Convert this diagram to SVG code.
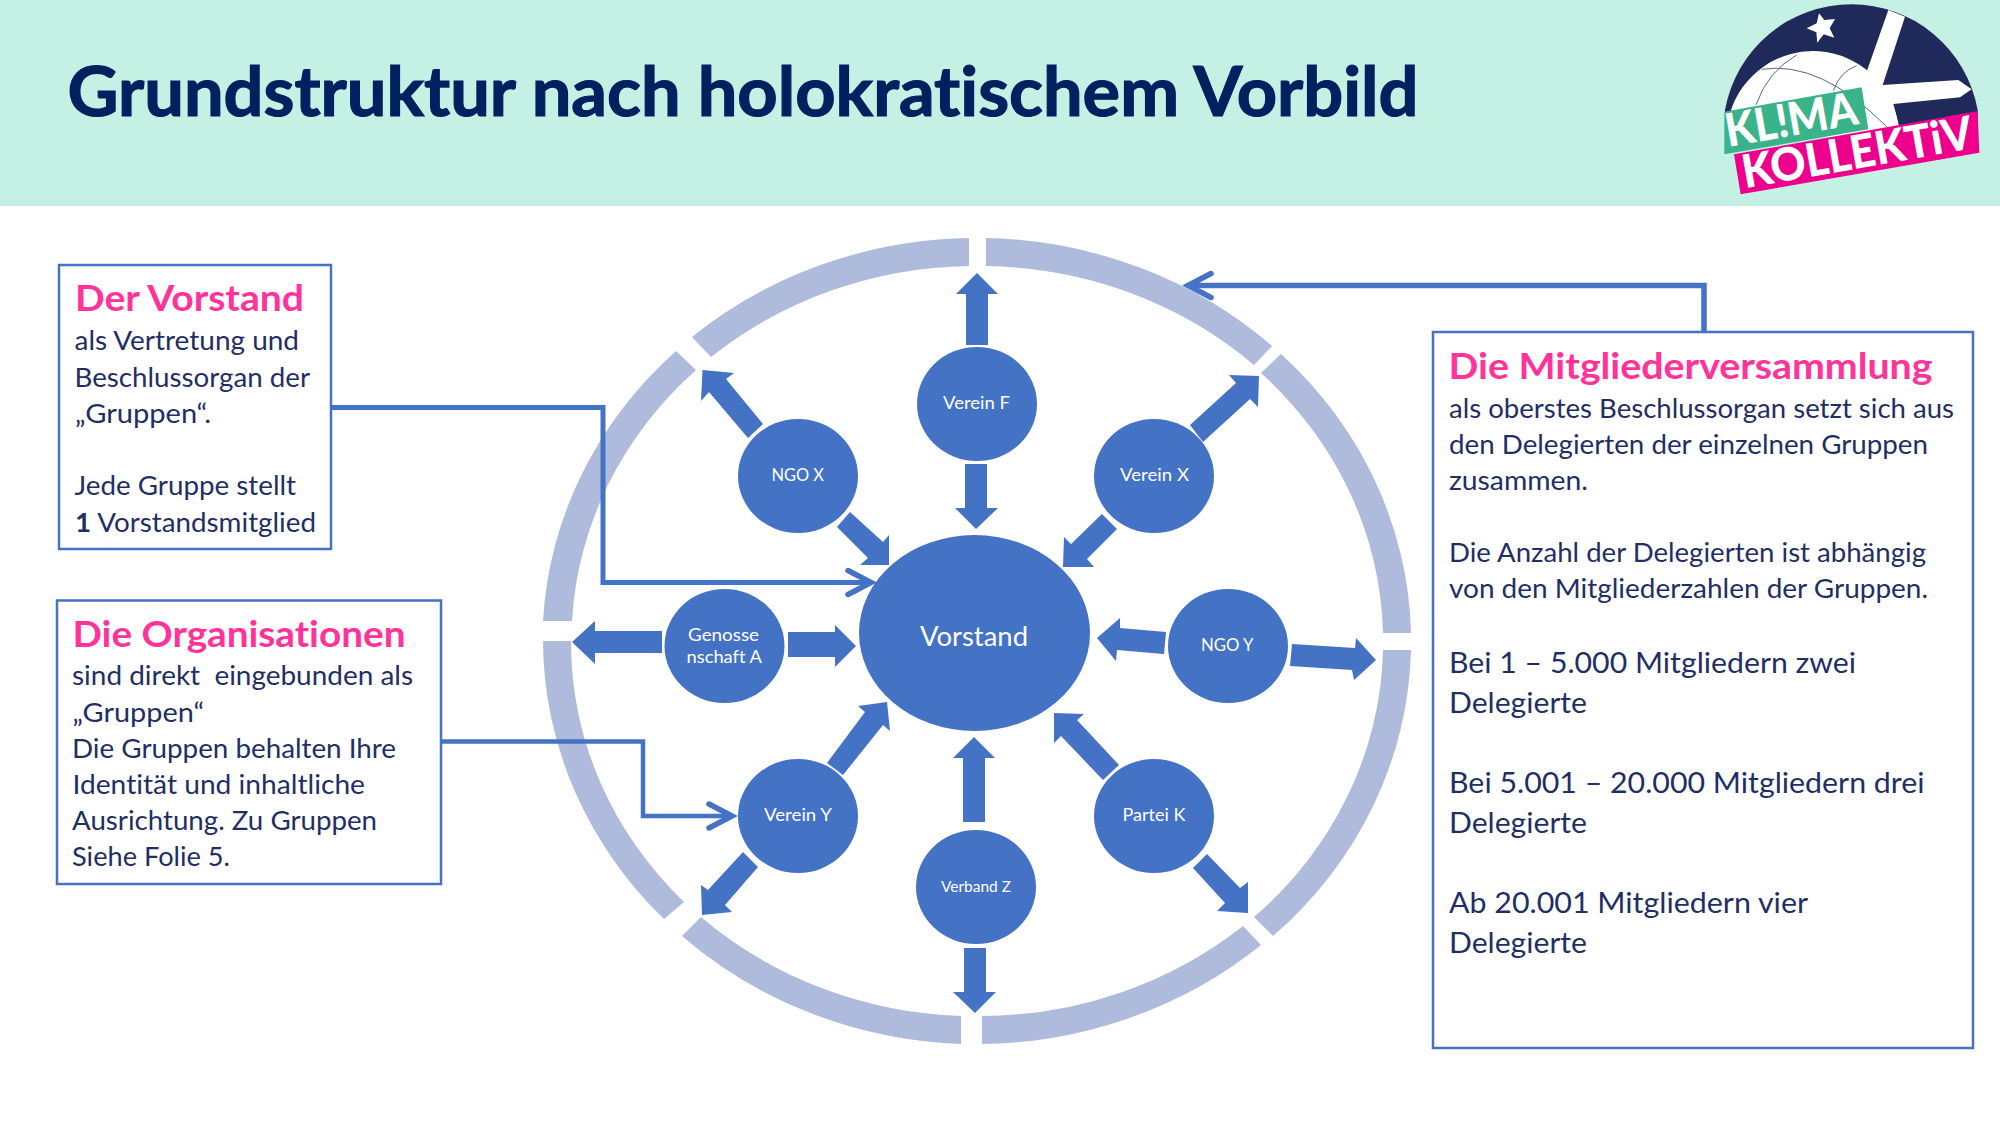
<svg xmlns="http://www.w3.org/2000/svg" width="2000" height="1125" viewBox="0 0 2000 1125">
<defs>
<marker id="open" markerUnits="userSpaceOnUse" markerWidth="44" markerHeight="44" refX="31" refY="22" orient="auto"><path d="M8,10 L31,22 L8,34" fill="none" stroke="#4472C4" stroke-width="5.5" stroke-linecap="round" stroke-linejoin="miter"/></marker>
</defs>
<style>
text{font-family:"Lato","Carlito","Liberation Sans",sans-serif;font-variant-ligatures:none}
.ring{fill:#AFBBDD}
.n{fill:#4472C4}
.a{fill:#4472C4}
.l{fill:#fff;font-size:17px}
.box{fill:#fff;stroke:#4472C4;stroke-width:2.5}
.h{fill:#FF3399;font-weight:700;font-size:36px}
.b{fill:#1F2F66;font-size:26.5px}
.c{fill:#1F2F66;font-size:29px}
.con{fill:none;stroke:#4472C4}
</style>
<rect x="0" y="0" width="2000" height="206" fill="#C5F0E4"/>
<text id="title" x="67.5" y="116" font-size="69" font-weight="700" fill="#002060" stroke="#002060" stroke-width="1.2" textLength="1351" lengthAdjust="spacingAndGlyphs">Grundstruktur nach holokratischem Vorbild</text>

<g id="logo" transform="translate(1680,0) scale(0.33333)">
<path d="M135,330 A385,385 0 0 1 893,330 L893,400 L135,400 Z" fill="#1F2A5A"/>
<path d="M150,340 A259,259 0 0 1 655,375 L640,410 L150,410 Z" fill="#fff"/>
<polygon points="625,30 675,50 608,255 835,240 875,268 840,292 640,312 660,390 560,390 540,215 560,215" fill="#fff"/>
<polygon points="417,40 433,60 465,57 449,85 463,113 431,103 412,128 409,97 380,85 410,70" fill="#fff"/>
<g fill="none" stroke="#5A6488" stroke-width="3">
<path d="M228,315 Q262,215 350,165"/><path d="M245,208 Q420,180 620,380"/><path d="M460,272 Q480,215 530,197"/>
</g>
<polygon points="133,335 545,262 565,388 133,463" fill="#3BB38A"/>
<polygon points="162,463 893,333 898,458 182,583" fill="#EC008C"/>
<text x="145" y="441" transform="rotate(-10 145 441)" font-size="138" font-weight="900" fill="#fff" textLength="400" lengthAdjust="spacingAndGlyphs">KL!MA</text>
<text x="195" y="565" transform="rotate(-10 195 565)" font-size="138" font-weight="900" fill="#fff" textLength="700" lengthAdjust="spacingAndGlyphs">KOLLEKTiV</text>
</g>

<g id="ring">
<path class="ring" d="M969,238 A434,403 0 0 0 692,337 L711,357 A405.5,375 0 0 1 969,266 Z"/>
<path class="ring" d="M986,238 A434,403 0 0 1 1272,346 L1254,365 A405.5,375 0 0 0 986,266 Z"/>
<path class="ring" d="M1281,354 A434,403 0 0 1 1411,633 L1383,633 A405.5,375 0 0 0 1261,373 Z"/>
<path class="ring" d="M1411,650 A434,403 0 0 1 1273,936 L1254,917 A405.5,375 0 0 0 1383,650 Z"/>
<path class="ring" d="M1261,945 A434,403 0 0 1 982,1044 L982,1016 A405.5,375 0 0 0 1243,926 Z"/>
<path class="ring" d="M961,1044 A434,403 0 0 1 682,936 L701,917 A405.5,375 0 0 0 961,1016 Z"/>
<path class="ring" d="M664,919 A434,403 0 0 1 543,641 L571,641 A405.5,375 0 0 0 684,902 Z"/>
<path class="ring" d="M543,621 A434,403 0 0 1 676,351 L696,370 A405.5,375 0 0 0 572,621 Z"/>
</g>

<g id="arrows">
<polygon class="a" points="977,273 998,294 988,294 988,345 966,345 966,294 956,294"/>
<polygon class="a" points="965,464 987,464 987,508 998,508 976,529 955,508 965,508"/>
<polygon class="a" points="702.5,370 734,373 726,379 763,424 748,438 709,392 701,401"/>
<polygon class="a" points="850,512 883,542 889,535 889,565 860,565 868,558 837,527"/>
<polygon class="a" points="1190,425 1236,383 1229,375 1259,376 1258,407 1250,399 1203,442"/>
<polygon class="a" points="1102,514 1071,544 1064,537 1063,567 1094,567 1087,559 1117,529"/>
<polygon class="a" points="572,642 595,621 595,631 662,631 662,653 595,653 595,664"/>
<polygon class="a" points="788,632 835,632 835,625 856,646 835,667 835,657 788,657"/>
<polygon class="a" points="1097,638 1120,618 1120,628 1166,632 1164,654 1117,650 1116,661"/>
<polygon class="a" points="1292,644 1355,648 1356,638 1376,660 1354,680 1352,670 1290,666"/>
<polygon class="a" points="827,763 865,712 858,706 887,702 890,731 883,725 843,775"/>
<polygon class="a" points="743,852 708,890 701,885 702,915 732,912 725,905 758,867"/>
<polygon class="a" points="974,737 995,758 985,758 985,822 963,822 963,758 953,758"/>
<polygon class="a" points="964,948 986,948 986,992 996,992 975,1013 953,992 964,992"/>
<polygon class="a" points="1119,765 1077,720 1084,714 1054,713 1054,743 1061,736 1103,780"/>
<polygon class="a" points="1207,854 1240,888 1248,882 1248,913 1217,911 1225,903 1193,868"/>
</g>

<g id="connectors">
<path class="con" stroke-width="5" d="M331,407.5 H603 V582.5 H871" marker-end="url(#open)"/>
<path class="con" stroke-width="4.5" d="M441,741.5 H643 V816 H732" marker-end="url(#open)"/>
<path class="con" stroke-width="5.5" d="M1704,332 V285.5 H1188" marker-end="url(#open)"/>
</g>

<g id="node-vorstand"><ellipse class="n" cx="974.5" cy="633" rx="115.5" ry="98"/><text class="l" x="920" y="646" style="font-size:26px" textLength="108" lengthAdjust="spacingAndGlyphs">Vorstand</text></g>
<g id="node-verein-f"><ellipse class="n" cx="977" cy="404" rx="60" ry="57"/><text class="l" x="943" y="409" textLength="67" lengthAdjust="spacingAndGlyphs">Verein F</text></g>
<g id="node-ngo-x"><ellipse class="n" cx="798" cy="476" rx="60" ry="57"/><text class="l" x="771.5" y="481" textLength="52.5" lengthAdjust="spacingAndGlyphs">NGO X</text></g>
<g id="node-verein-x"><ellipse class="n" cx="1154" cy="476" rx="60" ry="57"/><text class="l" x="1120" y="481" textLength="69" lengthAdjust="spacingAndGlyphs">Verein X</text></g>
<g id="node-genossenschaft-a"><ellipse class="n" cx="724.5" cy="646" rx="60" ry="57"/><text class="l" x="688" y="641" textLength="71" lengthAdjust="spacingAndGlyphs">Genosse</text><text class="l" x="686.5" y="663" textLength="75.5" lengthAdjust="spacingAndGlyphs">nschaft A</text></g>
<g id="node-ngo-y"><ellipse class="n" cx="1228" cy="646" rx="60" ry="57"/><text class="l" x="1201" y="651" textLength="52.5" lengthAdjust="spacingAndGlyphs">NGO Y</text></g>
<g id="node-verein-y"><ellipse class="n" cx="798" cy="816" rx="60" ry="57"/><text class="l" x="764" y="821" textLength="68" lengthAdjust="spacingAndGlyphs">Verein Y</text></g>
<g id="node-partei-k"><ellipse class="n" cx="1154" cy="816" rx="60" ry="57"/><text class="l" x="1122.5" y="821" textLength="63" lengthAdjust="spacingAndGlyphs">Partei K</text></g>
<g id="node-verband-z"><ellipse class="n" cx="976" cy="887" rx="60" ry="57"/><text class="l" x="941" y="892" style="font-size:15.5px" textLength="70" lengthAdjust="spacingAndGlyphs">Verband Z</text></g>

<g id="box-vorstand">
<rect class="box" x="59" y="265" width="272" height="284"/>
<text class="h" x="75" y="311" textLength="229" lengthAdjust="spacingAndGlyphs">Der Vorstand</text>
<text class="b" x="74.5" y="350" textLength="224.5" lengthAdjust="spacingAndGlyphs">als Vertretung und</text>
<text class="b" x="74.5" y="386.5" textLength="235.5" lengthAdjust="spacingAndGlyphs">Beschlussorgan der</text>
<text class="b" x="75" y="423" textLength="136" lengthAdjust="spacingAndGlyphs">„Gruppen“.</text>
<text class="b" x="74.5" y="495" textLength="221.5" lengthAdjust="spacingAndGlyphs">Jede Gruppe stellt</text>
<text class="b" x="75" y="531.5" textLength="241" lengthAdjust="spacingAndGlyphs"><tspan font-weight="700">1</tspan> Vorstandsmitglied</text>
</g>

<g id="box-organisationen">
<rect class="box" x="57" y="600.5" width="384" height="283.5"/>
<text class="h" x="72.5" y="646.5" textLength="333" lengthAdjust="spacingAndGlyphs">Die Organisationen</text>
<text class="b" x="72" y="685" textLength="341" lengthAdjust="spacingAndGlyphs" xml:space="preserve">sind direkt  eingebunden als</text>
<text class="b" x="72.5" y="722" textLength="131.5" lengthAdjust="spacingAndGlyphs">„Gruppen“</text>
<text class="b" x="72" y="758" textLength="324" lengthAdjust="spacingAndGlyphs">Die Gruppen behalten Ihre</text>
<text class="b" x="72.5" y="794" textLength="292.5" lengthAdjust="spacingAndGlyphs">Identität und inhaltliche</text>
<text class="b" x="72" y="830" textLength="305" lengthAdjust="spacingAndGlyphs">Ausrichtung. Zu Gruppen</text>
<text class="b" x="72" y="866" textLength="158" lengthAdjust="spacingAndGlyphs">Siehe Folie 5.</text>
</g>

<g id="box-mitgliederversammlung">
<rect class="box" x="1433" y="332" width="540" height="716"/>
<text class="h" x="1448.5" y="379" textLength="484" lengthAdjust="spacingAndGlyphs">Die Mitgliederversammlung</text>
<text class="b" x="1449" y="418" textLength="505" lengthAdjust="spacingAndGlyphs">als oberstes Beschlussorgan setzt sich aus</text>
<text class="b" x="1449" y="454" textLength="479" lengthAdjust="spacingAndGlyphs">den Delegierten der einzelnen Gruppen</text>
<text class="b" x="1449" y="490" textLength="139" lengthAdjust="spacingAndGlyphs">zusammen.</text>
<text class="b" x="1449" y="562" textLength="477" lengthAdjust="spacingAndGlyphs">Die Anzahl der Delegierten ist abhängig</text>
<text class="b" x="1449" y="598" textLength="479" lengthAdjust="spacingAndGlyphs">von den Mitgliederzahlen der Gruppen.</text>
<text class="c" x="1449" y="673" textLength="407" lengthAdjust="spacingAndGlyphs">Bei 1 – 5.000 Mitgliedern zwei</text>
<text class="c" x="1449" y="713" textLength="138" lengthAdjust="spacingAndGlyphs">Delegierte</text>
<text class="c" x="1449" y="793" textLength="475.5" lengthAdjust="spacingAndGlyphs">Bei 5.001 – 20.000 Mitgliedern drei</text>
<text class="c" x="1449" y="833" textLength="138" lengthAdjust="spacingAndGlyphs">Delegierte</text>
<text class="c" x="1449" y="913" textLength="359" lengthAdjust="spacingAndGlyphs">Ab 20.001 Mitgliedern vier</text>
<text class="c" x="1449" y="953" textLength="138" lengthAdjust="spacingAndGlyphs">Delegierte</text>
</g>
</svg>
